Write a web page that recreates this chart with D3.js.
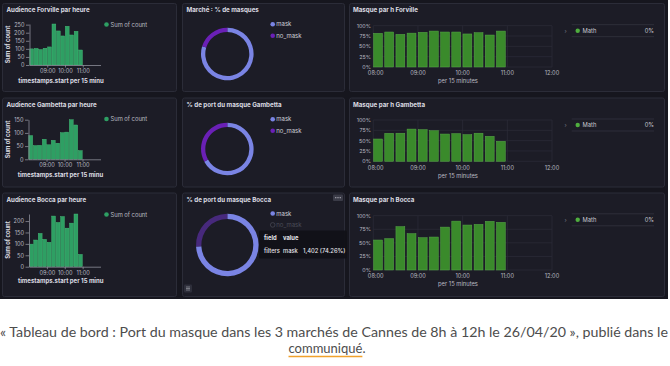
<!DOCTYPE html>
<html><head><meta charset="utf-8">
<script src="https://cdn.jsdelivr.net/npm/d3@7"></script>
<style>
html,body{margin:0;padding:0;background:#fff;}
svg{display:block;font-family:Inter,"Noto Sans",sans-serif;}
</style></head><body>
<svg id="c" width="670" height="366"></svg>
<script>
// ---------- data ----------
const slots = ["08:00","08:15","08:30","08:45","09:00","09:15","09:30","09:45","10:00","10:15","10:30","10:45"];
const forvilleCounts = [100,103,96,104,112,254,211,180,240,186,209,93];
const gambettaCounts = [90,52,53,76,55,72,61,101,103,150,130,33];
const boccaCounts = [99,117,146,120,107,222,194,220,169,191,231,54];
const forvilleMaskPct = [81.5,84.7,79,82,84,87,84.7,84.7,80,83,77.4,87];
const gambettaMaskPct = [54,67.7,68,78,76.6,74,66,67,64.5,68,60.5,48.4];
const boccaMaskPct = [55.2,57.7,79.8,66.9,59.5,60.7,79,90,82.8,84,89.6,87.7];
const donutFields = ["mask","no_mask"];
const forvilleDonut = [1510,385];
const gambettaDonut = [654,322];
const boccaDonut = [1402,486];
const histTicksForville = [0,50,100,150,200,250];
const histTicksGambetta = [0,50,100,150];
const histTicksBocca = [0,50,100,150,200];
const histTimeTicks = ["09:00","10:00","11:00"];
const pctTimeTicks = ["08:00","09:00","10:00","11:00","12:00"];
const pctTicks = [0,25,50,75,100];
const histTitles = ["Audience Forville par heure","Audience Gambetta par heure","Audience Bocca par heure"];
const donutTitles = ["Marché : % de masques","% de port du masque Gambetta","% de port du masque Bocca"];
const pctTitles = ["Masque par h Forville","Masque par h Gambetta","Masque par h Bocca"];
const mathLegend = ["Math","0%"];
const tooltipRows = [["field","value",""],["filters","mask","1,402 (74.26%)"]];
const caption1 = "« Tableau de bord : Port du masque dans les 3 marchés de Cannes de 8h à 12h le 26/04/20 », publié dans le";
const caption2 = "communiqué";

// ---------- setup ----------
const svg = d3.select("#c");
const parse = d3.utcParse("%H:%M");
const fmt = d3.utcFormat("%H:%M");
const T0 = parse("08:00"), T1 = parse("12:00");
const dt = 15*60*1000;

const C = {
  bg:"#16161e", panel:"#1c1c26", border:"#2b2c38", title:"#dcdde3", tick:"#b9bac2",
  axis:"#8d8e99", grid:"#2c2d39", hist:"#2e9f63", histEdge:"#49c07c",
  pct:"#3a8a2b", pctEdge:"#58a949", mask:"#7a84e4", nomask:"#6a20b6", nomaskDim:"#47297c"
};

svg.append("rect").attr("x",0).attr("y",0).attr("width",668).attr("height",299).attr("fill",C.bg);

const rows = [
  {top:3, bottom:92},
  {top:97.5, bottom:187.5},
  {top:192.5, bottom:297}
];
const cols = [{l:2,r:177},{l:182,r:345},{l:349,r:665}];
rows.forEach(rw => cols.forEach(c => {
  svg.append("rect").attr("x",c.l+0.5).attr("y",rw.top+0.5).attr("width",c.r-c.l-1).attr("height",rw.bottom-rw.top-1)
    .attr("rx",2).attr("fill",C.panel).attr("stroke",C.border).attr("stroke-width",1);
}));

function title(x,y,t){
  svg.append("text").attr("x",x).attr("y",y).attr("font-size",6.2).attr("font-weight",700)
    .attr("fill",C.title).text(t);
}

// ---------- histograms ----------
const histLayouts = [
  {x0:29.5,x1:100.5,yb:65,yt:24,titleY:12,tickY:73,labY:82.5,ylabY:44.5,legY:24.5},
  {x0:28.5,x1:100.5,yb:159.3,yt:119.7,titleY:107,tickY:167.5,labY:177,ylabY:139.5,legY:119},
  {x0:29,x1:100.5,yb:266.7,yt:214,titleY:201.5,tickY:274.5,labY:283,ylabY:240,legY:214.5}
];
const histData = [forvilleCounts,gambettaCounts,boccaCounts];
const histTicks = [histTicksForville,histTicksGambetta,histTicksBocca];

histData.forEach((counts,i)=>{
  const L = histLayouts[i];
  title(6.5,L.titleY,histTitles[i]);
  const x = d3.scaleUtc().domain([T0,T1]).range([L.x0,L.x1]);
  const y = d3.scaleLinear().domain([0,d3.max(counts)]).range([L.yb,L.yt]);
  const g = svg.append("g");
  g.selectAll("rect.bar").data(counts).join("rect").attr("class","bar")
    .attr("x",(d,j)=>x(parse(slots[j]))+0.3)
    .attr("width",(d,j)=>x(new Date(+parse(slots[j])+dt))-x(parse(slots[j]))-0.6)
    .attr("y",d=>y(d)).attr("height",d=>L.yb-y(d))
    .attr("fill",C.hist).attr("stroke",C.histEdge).attr("stroke-width",0.4);
  const ya = g.append("g").attr("transform",`translate(${L.x0},0)`)
    .call(d3.axisLeft(y).tickValues(histTicks[i]).tickSize(3.5).tickSizeOuter(0).tickPadding(1.5));
  const xa = g.append("g").attr("transform",`translate(0,${L.yb})`)
    .call(d3.axisBottom(x).tickValues(histTimeTicks.map(parse)).tickFormat(fmt).tickSize(2.5).tickSizeOuter(0).tickPadding(1.5));
  [ya,xa].forEach(a=>{
    a.selectAll("path,line").attr("stroke",C.axis).attr("stroke-width",0.8);
    a.selectAll("text").attr("fill",C.tick).attr("font-size",5.6).attr("font-family","Inter,sans-serif");
  });
  svg.append("text").attr("transform",`translate(9.5,${L.ylabY}) rotate(-90)`).attr("text-anchor","middle")
    .attr("font-size",5.8).attr("font-weight",700).attr("fill",C.title).text("Sum of count");
  svg.append("text").attr("x",(L.x0+L.x1)/2-4).attr("y",L.labY).attr("text-anchor","middle")
    .attr("font-size",6).attr("font-weight",700).attr("fill",C.title).text("timestamps.start per 15 minu");
  svg.append("circle").attr("cx",106.5).attr("cy",L.legY).attr("r",2.3).attr("fill",C.hist);
  svg.append("text").attr("x",110.5).attr("y",L.legY+2).attr("font-size",5.8).attr("fill",C.tick).text("Sum of count");
});

// ---------- donuts ----------
const donutLayouts = [
  {cx:227.3,cy:54,r:26.3,ir:22,titleY:12,legY:24.3},
  {cx:227.3,cy:149,r:26.3,ir:22,titleY:107,legY:119.3},
  {cx:227.3,cy:245,r:31.3,ir:26,titleY:201.5,legY:213.5}
];
const donutData = [forvilleDonut,gambettaDonut,boccaDonut];
const pie = d3.pie().sort(null).value(d=>d.v);
donutData.forEach((vals,i)=>{
  const L = donutLayouts[i];
  title(186.5,L.titleY,donutTitles[i]);
  const arcs = pie(donutFields.map((f,j)=>({f,v:vals[j]})));
  const arc = d3.arc().innerRadius(L.ir).outerRadius(L.r);
  const dim = i===2;
  svg.append("g").attr("transform",`translate(${L.cx},${L.cy})`)
    .selectAll("path").data(arcs).join("path").attr("d",arc)
    .attr("fill",d=>d.data.f==="mask"?C.mask:(dim?C.nomaskDim:C.nomask));
  donutFields.forEach((f,j)=>{
    const yy = L.legY + j*11.4;
    const faded = dim && f==="no_mask";
    const c = svg.append("circle").attr("cx",272.7).attr("cy",yy).attr("r",2.3);
    if(faded) c.attr("fill","none").attr("stroke","#4b4c58").attr("stroke-width",0.7);
    else c.attr("fill",f==="mask"?C.mask:C.nomask);
    svg.append("text").attr("x",276.3).attr("y",yy+2).attr("font-size",6)
      .attr("fill",faded?"#4b4c58":"#cfd0d8").text(f);
  });
});
// Bocca tooltip and panel icons
{
  const tg = svg.append("g");
  tg.append("rect").attr("x",259).attr("y",230.5).attr("width",88).attr("height",28).attr("rx",1.5)
    .attr("fill","#111117").attr("opacity",0.95);
  tooltipRows.forEach((r,k)=>{
    const yy = 239.5 + k*13.4;
    [264,283,303].forEach((xx,m)=>{
      if(r[m]) tg.append("text").attr("x",xx).attr("y",yy).attr("font-size",5.8)
        .attr("font-weight",k===0?700:500).attr("fill","#e4e4ea").text(r[m]);
    });
  });
  svg.append("rect").attr("x",333).attr("y",194.5).attr("width",10).attr("height",6.5).attr("rx",1).attr("fill","#3a3b47");
  [335.8,338,340.2].forEach(xx=>svg.append("circle").attr("cx",xx).attr("cy",197.7).attr("r",0.6).attr("fill","#c8c8d0"));
  svg.append("rect").attr("x",184).attr("y",284.5).attr("width",8).attr("height",8).attr("rx",1).attr("fill","#2e2f3b");
  [287,288.5,290].forEach(yy=>svg.append("line").attr("x1",186).attr("x2",190).attr("y1",yy).attr("y2",yy).attr("stroke","#a8a9b2").attr("stroke-width",0.6));
}

// ---------- percentage bar charts ----------
const pctLayouts = [
  {yt:25.7,yb:67,titleY:12,tickY:75,labY:83},
  {yt:120,yb:161.3,titleY:107,tickY:169.5,labY:177.5},
  {yt:215.7,yb:270,titleY:201.5,tickY:277.5,labY:285.5}
];
const pctData = [forvilleMaskPct,gambettaMaskPct,boccaMaskPct];
pctData.forEach((vals,i)=>{
  const L = pctLayouts[i];
  title(353,L.titleY,pctTitles[i]);
  const x = d3.scaleUtc().domain([T0,T1]).range([373.3,552]);
  const y = d3.scaleLinear().domain([0,100]).range([L.yb,L.yt]);
  const g = svg.append("g");
  g.selectAll("line.h").data(pctTicks).join("line").attr("x1",373.3).attr("x2",552)
    .attr("y1",d=>y(d)).attr("y2",d=>y(d)).attr("stroke",C.grid).attr("stroke-width",0.7);
  g.selectAll("line.v").data(pctTimeTicks).join("line").attr("class","v")
    .attr("x1",d=>x(parse(d))).attr("x2",d=>x(parse(d))).attr("y1",L.yt).attr("y2",L.yb)
    .attr("stroke",C.grid).attr("stroke-width",0.7);
  g.selectAll("rect").data(vals).join("rect")
    .attr("x",(d,j)=>x(parse(slots[j]))+0.3)
    .attr("width",(d,j)=>x(new Date(+parse(slots[j])+dt))-x(parse(slots[j]))-2.3)
    .attr("y",d=>y(d)).attr("height",d=>L.yb-y(d))
    .attr("fill",C.pct).attr("stroke",C.pctEdge).attr("stroke-width",0.5);
  g.selectAll("text.yt").data(pctTicks).join("text").attr("x",371).attr("y",d=>y(d)+2)
    .attr("text-anchor","end").attr("font-size",5.4).attr("fill",C.tick).text(d=>d+"%");
  g.selectAll("text.xt").data(pctTimeTicks).join("text")
    .attr("x",(d,j)=>x(parse(d))+(j===0?2.4:0)).attr("y",L.tickY)
    .attr("text-anchor","middle").attr("font-size",5.6).attr("fill",C.tick).text(d=>d);
  svg.append("text").attr("x",458).attr("y",L.labY).attr("text-anchor","middle")
    .attr("font-size",5.8).attr("fill",C.tick).text("per 15 minutes");
});

// Math legends
const mathY = [30.7,125,219.8];
mathY.forEach(yy=>{
  svg.append("line").attr("x1",571.7).attr("x2",654).attr("y1",yy-6).attr("y2",yy-6).attr("stroke","#32333f").attr("stroke-width",0.8);
  svg.append("line").attr("x1",571.7).attr("x2",654).attr("y1",yy+6).attr("y2",yy+6).attr("stroke","#32333f").attr("stroke-width",0.8);
  svg.append("text").attr("x",564.5).attr("y",yy+2).attr("font-size",5.8).attr("fill","#7d7e88").text("›");
  svg.append("circle").attr("cx",577.7).attr("cy",yy).attr("r",2.2).attr("fill","#4fae3e");
  svg.append("text").attr("x",582.5).attr("y",yy+2).attr("font-size",5.8).attr("fill","#c8c9d0").text(mathLegend[0]);
  svg.append("text").attr("x",654).attr("y",yy+2).attr("text-anchor","end").attr("font-size",5.8).attr("fill","#c8c9d0").text(mathLegend[1]);
});

// ---------- caption ----------
svg.append("text").attr("x",334).attr("y",337).attr("text-anchor","middle")
  .attr("font-family","Lato, 'Open Sans', sans-serif").attr("font-size",13).attr("font-weight",400)
  .attr("textLength",668).attr("lengthAdjust","spacingAndGlyphs")
  .attr("fill","#4d4d4d").text(caption1);
const c2 = svg.append("text").attr("x",288.5).attr("y",353)
  .attr("font-family","Lato, 'Open Sans', sans-serif").attr("font-size",13).attr("font-weight",400).attr("fill","#4d4d4d");
c2.append("tspan").attr("id","cw").text(caption2);
c2.append("tspan").text(".");
const bb = document.getElementById("cw").getComputedTextLength();
svg.append("line").attr("x1",288.5).attr("x2",288.5+bb).attr("y1",356.5).attr("y2",356.5).attr("stroke","#f0a12c").attr("stroke-width",1.4);
</script>
</body></html>
